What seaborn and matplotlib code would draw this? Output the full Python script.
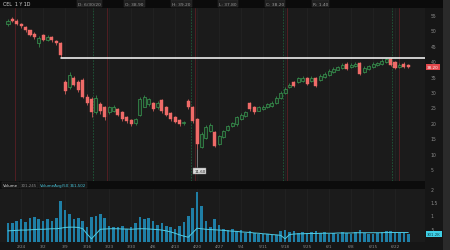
import numpy as np
import pandas as pd
import matplotlib
matplotlib.use("Agg")
import matplotlib.pyplot as plt
from matplotlib.patches import Rectangle
import seaborn as sns

# ---------------- data ----------------
opens = [52.0, 53.8, 53.2, 52.0, 51.0, 50.0, 49.0, 46.0, 48.5, 47.0, 48.0, 46.5, 46.0,
         33.1, 31.5, 34.7, 33.4, 34.0, 28.5, 27.6, 23.4, 26.0, 25.0, 23.4, 24.0, 24.4,
         23.4, 21.8, 20.8, 19.8, 22.7, 25.3, 26.0, 26.3, 25.0, 27.3, 25.0, 23.1, 21.8,
         20.8, 19.8, 27.0, 25.0, 21.1, 12.0, 15.0, 17.3, 17.0, 13.1, 15.3, 17.6, 18.9,
         19.5, 21.1, 22.1, 26.3, 25.0, 24.0, 24.4, 25.0, 25.6, 26.3, 28.2, 29.8, 31.5,
         33.1, 33.1, 33.7, 34.4, 33.7, 34.4, 34.0, 35.0, 35.6, 36.6, 37.3, 37.9, 39.2,
         38.2, 38.5, 39.5, 36.6, 37.6, 38.2, 38.9, 39.2, 39.8, 40.8, 39.8, 38.2, 39.2, 38.9]
closes = [53.2, 53.0, 52.0, 51.3, 50.0, 48.5, 47.8, 47.5, 47.0, 48.0, 46.8, 46.0, 42.0,
          30.2, 35.6, 32.4, 30.8, 28.5, 26.6, 23.4, 28.2, 23.7, 21.8, 25.0, 25.3, 22.7,
          21.1, 20.5, 19.5, 21.1, 27.6, 28.5, 27.6, 24.4, 26.6, 23.7, 22.7, 21.1, 20.2,
          19.5, 20.2, 25.0, 20.5, 13.1, 16.3, 18.5, 19.2, 12.5, 15.6, 17.3, 18.9, 19.8,
          21.8, 22.7, 23.4, 24.4, 23.4, 25.0, 25.3, 26.0, 26.6, 28.2, 29.8, 31.1, 32.4,
          32.1, 34.4, 34.7, 32.7, 34.7, 32.1, 35.3, 36.0, 36.9, 37.6, 38.2, 38.9, 37.6,
          38.9, 39.2, 36.0, 37.9, 38.5, 39.2, 39.5, 40.2, 40.8, 38.9, 37.9, 38.9, 38.2, 38.2]
highs = [53.8, 54.3, 53.6, 52.4, 51.4, 50.3, 49.5, 48.2, 49.0, 48.6, 48.3, 47.0, 46.4,
         34.0, 36.5, 35.2, 33.9, 34.6, 29.3, 28.5, 29.0, 26.8, 25.6, 25.6, 25.9, 24.9,
         23.8, 22.2, 21.2, 21.5, 28.3, 29.2, 28.1, 26.8, 27.1, 27.8, 25.4, 23.5, 22.1,
         21.1, 20.6, 27.6, 25.4, 21.5, 17.0, 19.2, 19.8, 17.4, 16.2, 17.8, 19.4, 20.3,
         22.3, 23.2, 23.9, 26.9, 25.4, 25.5, 25.8, 26.4, 27.0, 28.7, 30.3, 31.6, 32.9,
         33.5, 34.9, 35.2, 34.8, 35.1, 34.8, 35.8, 36.5, 37.4, 38.0, 38.6, 39.3, 39.6,
         39.3, 39.6, 39.9, 38.3, 38.9, 39.6, 39.9, 40.6, 41.2, 41.1, 40.2, 39.3, 39.6, 39.2]
lows = [51.6, 52.6, 51.7, 50.8, 49.6, 48.1, 47.2, 44.5, 46.6, 46.5, 46.2, 45.3, 41.5,
        29.5, 31.0, 31.8, 30.0, 28.0, 25.8, 22.0, 23.0, 23.0, 21.0, 22.8, 23.6, 22.2,
        20.6, 20.0, 19.1, 19.4, 22.3, 25.0, 25.6, 24.0, 24.6, 23.2, 22.2, 20.7, 19.8,
        19.1, 19.3, 24.6, 20.0, 11.6, 11.8, 14.6, 16.9, 12.0, 12.8, 15.0, 17.2, 18.5,
        19.1, 20.8, 21.8, 24.0, 23.0, 23.7, 24.1, 24.7, 25.3, 26.0, 27.9, 29.5, 31.2,
        31.7, 32.8, 33.4, 32.3, 33.4, 31.7, 33.7, 34.7, 35.3, 36.3, 37.0, 37.6, 37.2,
        37.9, 38.2, 35.6, 36.3, 37.3, 37.9, 38.6, 38.9, 39.5, 38.5, 37.5, 37.9, 37.8, 37.8]
volume_m = [0.70, 0.72, 0.80, 0.85, 0.75, 0.90, 0.95, 0.85, 0.80, 0.85,
            0.78, 0.90, 1.55, 1.20, 1.05, 0.85, 0.90, 0.80, 0.55, 0.95,
            1.00, 1.05, 0.90, 0.60, 0.55, 0.55, 0.60, 0.50, 0.55, 0.70,
            0.95, 0.85, 0.90, 0.80, 0.65, 0.70, 0.60, 0.55, 0.50, 0.60,
            0.75, 1.00, 1.30, 1.90, 1.36, 0.80, 0.55, 0.85, 0.65, 0.50,
            0.45, 0.50, 0.40, 0.45, 0.35, 0.40, 0.35, 0.30, 0.32, 0.30,
            0.28, 0.25, 0.42, 0.45, 0.38, 0.40, 0.35, 0.38, 0.33, 0.36,
            0.40, 0.35, 0.38, 0.32, 0.35, 0.30, 0.38, 0.33, 0.30, 0.36,
            0.45, 0.35, 0.32, 0.30, 0.34, 0.36, 0.40, 0.42, 0.38, 0.33,
            0.35, 0.30]
volume_avg_m = [0.42, 0.43, 0.44, 0.45, 0.45, 0.46, 0.47, 0.48, 0.48, 0.49,
                0.50, 0.50, 0.52, 0.55, 0.56, 0.56, 0.55, 0.50, 0.30, 0.12,
                0.30, 0.48, 0.49, 0.50, 0.50, 0.50, 0.49, 0.49, 0.48, 0.49,
                0.50, 0.50, 0.49, 0.48, 0.47, 0.45, 0.42, 0.38, 0.33, 0.27,
                0.22, 0.18, 0.35, 0.52, 0.50, 0.48, 0.47, 0.46, 0.45, 0.44,
                0.42, 0.41, 0.40, 0.38, 0.37, 0.36, 0.34, 0.33, 0.31, 0.30,
                0.28, 0.27, 0.25, 0.12, 0.28, 0.30, 0.31, 0.31, 0.32, 0.32,
                0.32, 0.33, 0.33, 0.33, 0.33, 0.34, 0.34, 0.34, 0.34, 0.35,
                0.35, 0.35, 0.35, 0.35, 0.35, 0.35, 0.36, 0.36, 0.36, 0.36,
                0.36, 0.36]
date_labels = ["2/24", "3/2", "3/9", "3/16", "3/23", "3/30", "4/6", "4/13", "4/20",
               "4/27", "5/4", "5/11", "5/18", "5/25", "6/1", "6/8", "6/15", "6/22"]
date_label_index = [3, 8, 13, 18, 23, 28, 33, 38, 43, 48, 53, 58, 63, 68, 73, 78, 83, 88]
price_ticks = [5, 10, 15, 20, 25, 30, 35, 40, 45, 50, 55]
volume_ticks = [0.5, 1, 1.5, 2]
volume_tick_labels = [".5", "1", "1.5", "2"]
event_green = [19.3, 41.6, 62.5, 87.2]
event_red = [1.6, 22.5, 42.5, 63.4, 88.8]
resistance_level = 41.1
resistance_start = 12
low_point_label = "11.60"
last_price_label = "38.20"
header_text = "CEL  1 Y 1D"
header_fields = ["D: 6/30/20", "O: 38.90", "H: 39.20", "L: 37.80", "C: 38.20", "R: 1.40"]
vol_header = ["Volume", "301,245", "VolumeAvg(50)", "361,502"]

n = len(closes)
idx = np.arange(n)
df = pd.DataFrame({"i": idx, "open": opens, "close": closes, "high": highs,
                   "low": lows, "vol": volume_m, "vavg": volume_avg_m})

# ---------------- style ----------------
sns.set_theme(style="dark")
plt.rcParams["font.family"] = ["DejaVu Sans"]
BG = "#161616"
PANEL = "#1b1b1b"
UP = "#3a9a52"
UP_FILL = "#1c2e21"
DOWN = "#ef6b68"
TXT = "#8a8a8a"

W, H = 450, 251
fig = plt.figure(figsize=(4.5, 2.51), dpi=100, facecolor=BG)

def fx(px):
    return px / W

def fy(py):
    return 1 - py / H

ax = fig.add_axes([0, fy(182), fx(425), fy(9) - fy(182)], facecolor=PANEL)
axv = fig.add_axes([0, fy(243), fx(425), fy(190) - fy(243)], facecolor=PANEL, sharex=ax)

# header bar
fig.patches.append(Rectangle((0, fy(9)), 1, 1 - fy(9), transform=fig.transFigure,
                             facecolor="#0b0b0b", edgecolor="none", zorder=0))
fig.text(fx(3), fy(4.5), header_text, color="#d8d8d8", fontsize=3.4, va="center")
hx = 78
for f in header_fields:
    fig.text(fx(hx), fy(4.5), f, color="#9a9a9a", fontsize=3.2, va="center",
             bbox=dict(boxstyle="square,pad=0.25", facecolor="#1f1f1f", edgecolor="#333333", lw=0.3))
    hx += 47

# volume header band
fig.patches.append(Rectangle((0, fy(190)), fx(425), fy(182) - fy(190), transform=fig.transFigure,
                             facecolor="#0c0c0c", edgecolor="none", zorder=0))
vx = [3, 21, 40, 70]
vcol = ["#d8d8d8", "#8a8a8a", "#49c3d8", "#49c3d8"]
for t, x, c in zip(vol_header, vx, vcol):
    fig.text(fx(x), fy(186), t, color=c, fontsize=2.9, va="center",
             bbox=dict(boxstyle="square,pad=0.2", facecolor="#151515", edgecolor="#2f2f2f", lw=0.3))

# right scrollbar strip
fig.patches.append(Rectangle((fx(443), 0), 1 - fx(443), 1, transform=fig.transFigure,
                             facecolor="#2a2a2a", edgecolor="none", zorder=0))

# ---------------- price panel ----------------
xlim = (-1.8, 94.8)
ax.set_xlim(*xlim)
ax.set_ylim(1.1, 57.3)

for gx in date_label_index:
    ax.axvline(gx, color="#242424", lw=0.5, zorder=0)
for ex in event_green:
    ax.axvline(ex, color="#1f5a3a", lw=0.6, ls=(0, (2, 1.5)), zorder=0.5)
for ex in event_red:
    ax.axvline(ex, color="#5a1f24", lw=0.6, zorder=0.5)

up = df[df.close >= df.open]
dn = df[df.close < df.open]
ax.vlines(up.i, up.low, up.high, color=UP, lw=0.5, zorder=2)
ax.vlines(dn.i, dn.low, dn.high, color=DOWN, lw=0.5, zorder=2)
ax.bar(up.i, (up.close - up.open).clip(lower=0.25), bottom=up.open, width=0.72,
       facecolor=UP_FILL, edgecolor=UP, linewidth=0.5, zorder=3)
ax.bar(dn.i, dn.close - dn.open, bottom=dn.open, width=0.72,
       facecolor=DOWN, edgecolor=DOWN, linewidth=0.3, zorder=3)

# resistance line
ax.plot([resistance_start, xlim[1]], [resistance_level, resistance_level],
        color="white", lw=1.1, zorder=4)

# low marker label
low_i = int(np.argmin(lows))
ax.plot([low_i, low_i], [lows[low_i], 5.6], color="#bbbbbb", lw=0.4, zorder=4)
ax.text(low_i + 0.6, 4.4, low_point_label, color="#222222", fontsize=2.9, ha="center", va="center",
        bbox=dict(boxstyle="square,pad=0.25", facecolor="#d9d9d9", edgecolor="#888888", lw=0.3), zorder=5)

ax.yaxis.tick_right()
ax.set_yticks(price_ticks)
ax.set_yticklabels([str(t) for t in price_ticks])
ax.tick_params(axis="y", colors=TXT, labelsize=3.3, length=0, pad=4)
ax.tick_params(axis="x", length=0, labelbottom=False)
ax.grid(False)
for s in ax.spines.values():
    s.set_visible(False)

# last price tag
ax.text(1.005, closes[-1], last_price_label, transform=ax.get_yaxis_transform(),
        color="white", fontsize=3.0, va="center", ha="left",
        bbox=dict(boxstyle="square,pad=0.3", facecolor="#e2474b", edgecolor="none"), zorder=6)

# ---------------- volume panel ----------------
sns.barplot(data=df, x="i", y="vol", native_scale=True, color="#1f7fa6", saturation=1,
            width=0.62, ax=axv, zorder=2, edgecolor="none")
sns.lineplot(data=df, x="i", y="vavg", color="#4fcbe2", lw=0.7, ax=axv, zorder=3)
for gx in date_label_index:
    axv.axvline(gx, color="#242424", lw=0.5, zorder=0)
axv.set_xlim(*xlim)
axv.set_ylim(0, 2.0)
axv.yaxis.tick_right()
axv.set_yticks(volume_ticks)
axv.set_yticklabels(volume_tick_labels)
axv.tick_params(axis="y", colors=TXT, labelsize=3.3, length=0, pad=4)
axv.set_xticks(date_label_index)
axv.set_xticklabels(date_labels)
axv.tick_params(axis="x", colors=TXT, labelsize=3.0, length=0, pad=1.5)
axv.set_xlabel("")
axv.set_ylabel("")
axv.grid(False)
for s in axv.spines.values():
    s.set_visible(False)
axv.text(1.005, 0.3, "301.2K", transform=axv.get_yaxis_transform(),
         color="#0d3c45", fontsize=2.8, va="center", ha="left",
         bbox=dict(boxstyle="square,pad=0.3", facecolor="#3fd0e6", edgecolor="none"), zorder=6)

fig.savefig("out.png", dpi=100, facecolor=BG)
